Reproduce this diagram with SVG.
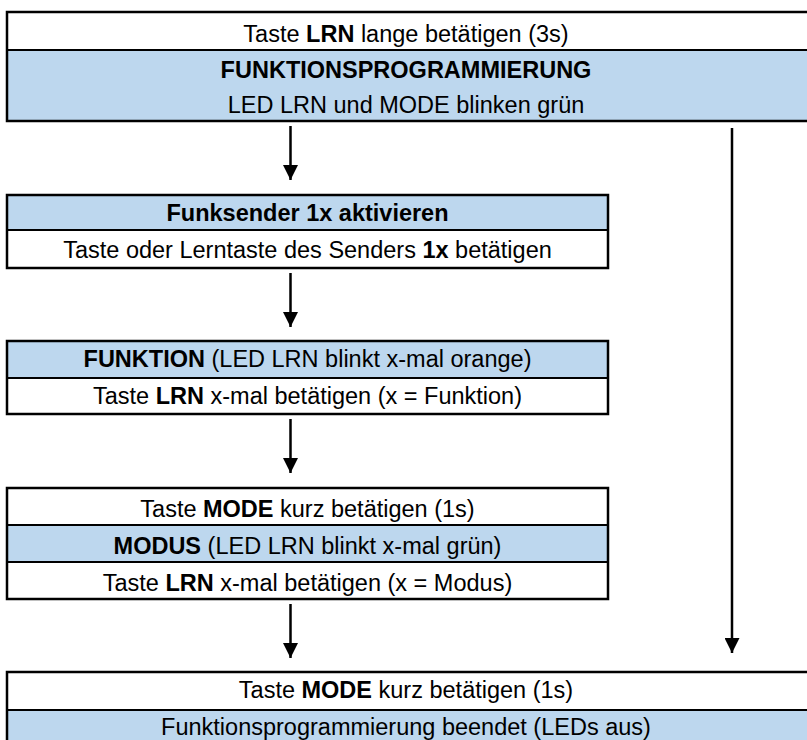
<svg xmlns="http://www.w3.org/2000/svg" width="807" height="740" viewBox="0 0 807 740">
<defs>
<style>
.box{fill:none;stroke:#000;stroke-width:2.5}
.div{stroke:#000;stroke-width:2}
.blue{fill:#BDD7EE}
.white{fill:#fff}
text{font-family:"Liberation Sans",Arial,sans-serif;font-size:23.5px;fill:#000;text-anchor:middle}
.b{font-weight:bold}
.con{stroke:#000;stroke-width:2.5;fill:none;marker-end:url(#ah)}
</style>
<marker id="ah" viewBox="0 0 15 15" refX="15" refY="7.5" markerWidth="15" markerHeight="15" markerUnits="userSpaceOnUse" orient="auto">
<path d="M0,0 L15,7.5 L0,15 Z" fill="#000"/>
</marker>
</defs>
<rect width="807" height="740" fill="#fff"/>
<g id="node1">
<rect class="white" x="7" y="12" width="815" height="38"/>
<rect class="blue" x="7" y="50" width="815" height="71"/>
<rect class="box" x="7" y="12" width="815" height="109"/>
<line class="div" x1="7" y1="50" x2="807" y2="50"/>
<text x="406" y="42">Taste <tspan class="b">LRN</tspan> lange betätigen (3s)</text>
<text x="406" y="78" class="b">FUNKTIONSPROGRAMMIERUNG</text>
<text x="406" y="113">LED LRN und MODE blinken grün</text>
</g>
<g id="node2">
<rect class="blue" x="7" y="195" width="601" height="35"/>
<rect class="white" x="7" y="230" width="601" height="38"/>
<rect class="box" x="7" y="195" width="601" height="73"/>
<line class="div" x1="7" y1="230" x2="608" y2="230"/>
<text x="307.5" y="221" class="b">Funksender 1x aktivieren</text>
<text x="307.5" y="258">Taste oder Lerntaste des Senders <tspan class="b">1x</tspan> betätigen</text>
</g>
<g id="node3">
<rect class="blue" x="7" y="341" width="601" height="37"/>
<rect class="white" x="7" y="378" width="601" height="36"/>
<rect class="box" x="7" y="341" width="601" height="73"/>
<line class="div" x1="7" y1="378" x2="608" y2="378"/>
<text x="307.5" y="367"><tspan class="b">FUNKTION</tspan> (LED LRN blinkt x-mal orange)</text>
<text x="307.5" y="404">Taste <tspan class="b">LRN</tspan> x-mal betätigen (x = Funktion)</text>
</g>
<g id="node4">
<rect class="white" x="7" y="488" width="601" height="37"/>
<rect class="blue" x="7" y="525" width="601" height="37"/>
<rect class="white" x="7" y="562" width="601" height="37"/>
<rect class="box" x="7" y="488" width="601" height="111"/>
<line class="div" x1="7" y1="525" x2="608" y2="525"/>
<line class="div" x1="7" y1="562" x2="608" y2="562"/>
<text x="307.5" y="517">Taste <tspan class="b">MODE</tspan> kurz betätigen (1s)</text>
<text x="307.5" y="554"><tspan class="b">MODUS</tspan> (LED LRN blinkt x-mal grün)</text>
<text x="307.5" y="591">Taste <tspan class="b">LRN</tspan> x-mal betätigen (x = Modus)</text>
</g>
<g id="node5">
<rect class="white" x="7" y="672" width="815" height="38"/>
<rect class="blue" x="7" y="710" width="815" height="50"/>
<rect class="box" x="7" y="672" width="815" height="88"/>
<line class="div" x1="7" y1="710" x2="807" y2="710"/>
<text x="406" y="698">Taste <tspan class="b">MODE</tspan> kurz betätigen (1s)</text>
<text x="406" y="735">Funktionsprogrammierung beendet (LEDs aus)</text>
</g>
<g id="connectors">
<line class="con" x1="290.5" y1="126" x2="290.5" y2="180"/>
<line class="con" x1="290.5" y1="273" x2="290.5" y2="327"/>
<line class="con" x1="290.5" y1="419" x2="290.5" y2="473"/>
<line class="con" x1="290.5" y1="604" x2="290.5" y2="658"/>
<line class="con" x1="732" y1="128" x2="732" y2="653"/>
</g>
</svg>
